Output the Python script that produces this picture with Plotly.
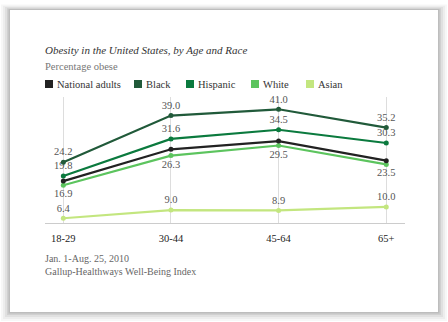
import plotly.graph_objects as go

W, H = 448, 322

categories = ["18-29", "30-44", "45-64", "65+"]
series_names = ["National adults", "Black", "Hispanic", "White", "Asian"]
national = [18.2, 28.3, 30.9, 24.7]
black = [24.2, 39.0, 41.0, 35.2]
hispanic = [19.8, 31.6, 34.5, 30.3]
white = [16.9, 26.3, 29.5, 23.5]
asian = [6.4, 9.0, 8.9, 10.0]
colors = ["#222222", "#215a3a", "#0b7a3e", "#5cc45e", "#c3e67f"]
label_pos = [None, "top center", "top center", "bottom center", "top center"]
values = [national, black, hispanic, white, asian]

SERIF = "Liberation Serif"

def px(x):
    return x / W

def py(y):
    return 1 - y / H

fig = go.Figure()
order = [4, 3, 0, 2, 1]
for i in order:
    pos = label_pos[i]
    fig.add_trace(go.Scatter(
        x=list(range(len(categories))), y=values[i],
        mode="lines+markers+text" if pos else "lines+markers",
        line=dict(color=colors[i], width=2.2),
        marker=dict(color=colors[i], size=5),
        text=[f"{v:.1f}" for v in values[i]] if pos else None,
        textposition=pos,
        textfont=dict(family=SERIF, size=10.5, color="#555555"),
        name=series_names[i], showlegend=False, cliponaxis=False,
    ))

shapes = []
# soft shadow
for d, op in [(9, 0.03), (7, 0.04), (5, 0.05), (3, 0.07), (1.5, 0.09)]:
    shapes.append(dict(type="rect", xref="paper", yref="paper", layer="below",
                       x0=px(10 - d), x1=px(438 + d), y0=py(312 + d), y1=py(10 - d * 0.6),
                       line=dict(width=0), fillcolor=f"rgba(0,0,0,{op})"))
shapes.append(dict(type="rect", xref="paper", yref="paper", layer="below",
                   x0=px(10), x1=px(438), y0=py(312), y1=py(10),
                   line=dict(width=0), fillcolor="white"))

def note(text, x, y, size, color):
    return dict(text=text, x=px(x), y=py(y), xref="paper", yref="paper",
                xanchor="left", yanchor="middle", showarrow=False,
                font=dict(family=SERIF, size=size, color=color))

annotations = [
    note("<i>Obesity in the United States, by Age and Race</i>", 43, 50, 11, "#333333"),
    note("Percentage obese", 43, 66, 10.5, "#777777"),
    note("Jan. 1-Aug. 25, 2010", 43, 258, 10, "#666666"),
    note("Gallup-Healthways Well-Being Index", 43, 271, 10, "#666666"),
]

legend_x = [45, 134, 186, 251, 306]
for i, name in enumerate(series_names):
    x0 = legend_x[i]
    shapes.append(dict(type="rect", xref="paper", yref="paper",
                       x0=px(x0), x1=px(x0 + 8), y0=py(88), y1=py(80),
                       line=dict(width=0), fillcolor=colors[i]))
    annotations.append(note(name, x0 + 10, 84, 10.5, "#333333"))

fig.update_layout(
    width=W, height=H,
    margin=dict(l=0, r=0, t=0, b=0),
    paper_bgcolor="#ffffff", plot_bgcolor="rgba(0,0,0,0)",
    shapes=shapes, annotations=annotations,
    xaxis=dict(domain=[px(44.7), px(405)], range=[-0.173, 3.174],
               tickmode="array", tickvals=list(range(len(categories))), ticktext=categories,
               showgrid=True, gridcolor="#dddddd", gridwidth=1, zeroline=False,
               showline=True, linecolor="#cccccc", linewidth=1,
               ticks="", ticklabelstandoff=5,
               tickfont=dict(family=SERIF, size=10.5, color="#222222")),
    yaxis=dict(domain=[py(223), py(97)], range=[4.9, 44.9],
               showgrid=False, zeroline=False, showticklabels=False, showline=False),
)

fig.write_html("out.html")
